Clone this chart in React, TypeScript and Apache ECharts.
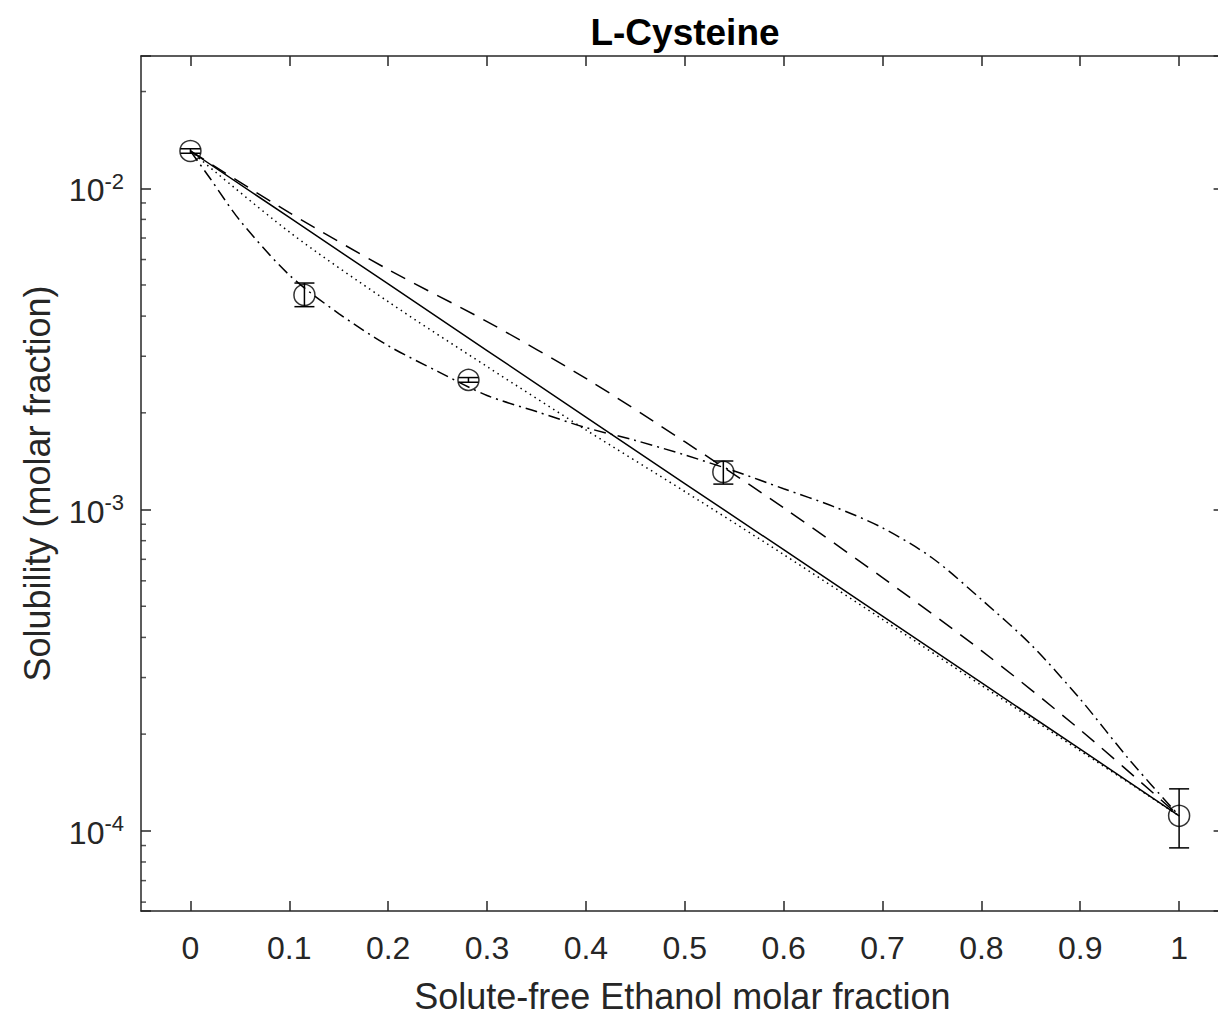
import React, { useEffect, useRef } from "react";
import * as echarts from "echarts";

// ---- data ----
const xTicks = [0, 0.1, 0.2, 0.3, 0.4, 0.5, 0.6, 0.7, 0.8, 0.9, 1];
const yMinorTicks = [
  6e-5, 7e-5, 8e-5, 9e-5,
  2e-4, 3e-4, 4e-4, 5e-4, 6e-4, 7e-4, 8e-4, 9e-4,
  2e-3, 3e-3, 4e-3, 5e-3, 6e-3, 7e-3, 8e-3, 9e-3,
  2e-2,
];

// experimental points (circles with error bars)
const expX = [0, 0.1153, 0.2812, 0.539, 1];
const expY = [0.01306, 0.004655, 0.002532, 0.001309, 1.114e-4];
const expLow = [0.01285, 0.00428, 0.00249, 0.0012, 8.85e-5];
const expHigh = [0.01327, 0.00507, 0.002575, 0.001416, 1.351e-4];

// model curves
const modelX = [0, 0.1, 0.2, 0.3, 0.4, 0.5, 0.6, 0.7, 0.8, 0.9, 1];
const solidY = [0.01306, 0.00811, 0.005035, 0.003126, 0.001941, 0.001205, 7.5e-4, 4.656e-4, 2.891e-4, 1.795e-4, 1.114e-4];
const dottedY = [0.01306, 0.007311, 0.004436, 0.002786, 0.00177, 0.001138, 7.244e-4, 4.55e-4, 2.838e-4, 1.774e-4, 1.114e-4];
const dashedY = [0.01306, 0.008395, 0.005585, 0.003846, 0.002559, 0.001626, 0.001012, 6.138e-4, 3.639e-4, 2.061e-4, 1.114e-4];
const dashDotX = [0, 0.02, 0.05, 0.1, 0.15, 0.2, 0.25, 0.3, 0.35, 0.4, 0.45, 0.5, 0.55, 0.6, 0.65, 0.7, 0.75, 0.8, 0.85, 0.9, 0.95, 1];
const dashDotY = [0.01306, 0.01072, 0.007943, 0.00537, 0.004074, 0.003236, 0.002692, 0.002265, 0.002018, 0.001799, 0.001641, 0.001479, 0.001318, 0.001161, 0.001023, 8.77e-4, 7.079e-4, 5.248e-4, 3.802e-4, 2.57e-4, 1.66e-4, 1.114e-4];

const X_MIN = -0.05;
const X_MAX = 1.045;
const Y_MIN = 5.63e-5;
const Y_MAX = 0.0258;

const AX = "#262626";
const FONT = "Liberation Sans, Arial, Helvetica, sans-serif";

const zip = (xs: number[], ys: number[]) => xs.map((x, i) => [x, ys[i]]);

function yLabel(v: number) {
  const e = Math.log10(v);
  const n = Math.round(e);
  if (Math.abs(e - n) > 1e-6) return "";
  return `{b|10}{e|${n}}`;
}

function buildOption() {
  const lineBase = { type: "line", showSymbol: false, silent: true, z: 3 };
  const axLine = { show: true, onZero: false, lineStyle: { color: AX, width: 1.5 } };
  return {
    animation: false,
    backgroundColor: "#ffffff",
    title: {
      text: "L-Cysteine",
      left: 680,
      top: 9,
      textAlign: "center",
      textStyle: { fontFamily: FONT, fontWeight: "bold", fontSize: 37, color: "#000" },
    },
    grid: {
      left: 141,
      top: 56,
      width: 1082.6,
      height: 855,
      containLabel: false,
      outerBoundsMode: "none",
    },
    xAxis: [
      {
        type: "value",
        position: "bottom",
        min: X_MIN,
        max: X_MAX,
        name: "Solute-free Ethanol molar fraction",
        nameLocation: "middle",
        nameGap: 67,
        nameTextStyle: { fontFamily: FONT, fontSize: 36, color: AX },
        axisLine: axLine,
        axisTick: { show: true, inside: true, length: 10, customValues: xTicks, lineStyle: { color: AX, width: 1.5 } },
        axisLabel: { show: true, customValues: xTicks, margin: 21, fontFamily: FONT, fontSize: 32, color: AX },
        splitLine: { show: false },
      },
      {
        type: "value",
        position: "top",
        min: X_MIN,
        max: X_MAX,
        axisLine: axLine,
        axisTick: { show: true, inside: true, length: 10, customValues: xTicks, lineStyle: { color: AX, width: 1.5 } },
        axisLabel: { show: false, customValues: xTicks },
        splitLine: { show: false },
      },
    ],
    yAxis: [
      {
        type: "log",
        logBase: 10,
        position: "left",
        min: Y_MIN,
        max: Y_MAX,
        name: "Solubility (molar fraction)",
        nameLocation: "middle",
        nameRotate: 90,
        nameGap: 86,
        nameTextStyle: { fontFamily: FONT, fontSize: 36, color: AX },
        axisLine: axLine,
        axisTick: { show: true, inside: true, length: 10, lineStyle: { color: AX, width: 1.5 } },
        axisLabel: {
          show: true,
          margin: 17,
          formatter: yLabel,
          rich: {
            b: { fontFamily: FONT, fontSize: 32, color: AX, lineHeight: 36, verticalAlign: "bottom" },
            e: { fontFamily: FONT, fontSize: 22, color: AX, lineHeight: 18, verticalAlign: "top" },
          },
        },
        splitLine: { show: false },
        minorTick: { show: false },
      },
      {
        type: "log",
        logBase: 10,
        position: "right",
        min: Y_MIN,
        max: Y_MAX,
        axisLine: axLine,
        axisTick: { show: true, inside: true, length: 10, lineStyle: { color: AX, width: 1.5 } },
        axisLabel: { show: false },
        splitLine: { show: false },
      },
    ],
    series: [
      {
        ...lineBase,
        name: "solid",
        data: zip(modelX, solidY),
        lineStyle: { color: "#000", width: 1.5, type: "solid" },
      },
      {
        ...lineBase,
        name: "dotted",
        smooth: 0.3,
        data: zip(modelX, dottedY),
        lineStyle: { color: "#000", width: 1.5, type: [1.5, 4] },
      },
      {
        ...lineBase,
        name: "dashed",
        smooth: 0.3,
        data: zip(modelX, dashedY),
        lineStyle: { color: "#000", width: 1.5, type: [16, 10] },
      },
      {
        ...lineBase,
        name: "dashdot",
        smooth: 0.3,
        data: zip(dashDotX, dashDotY),
        lineStyle: { color: "#000", width: 1.5, type: [12, 5, 2, 5] },
      },
      {
        type: "custom",
        name: "errorbars",
        silent: true,
        z: 4,
        data: expX.map((x, i) => [x, expLow[i], expHigh[i]]),
        encode: { x: 0, y: [1, 2] },
        renderItem: (params: any, api: any) => {
          const x = api.value(0);
          const lo = api.coord([x, api.value(1)]);
          const hi = api.coord([x, api.value(2)]);
          const w = 10;
          const style = { stroke: "#000", lineWidth: 1.5 };
          return {
            type: "group",
            children: [
              { type: "line", shape: { x1: lo[0], y1: lo[1], x2: hi[0], y2: hi[1] }, style },
              { type: "line", shape: { x1: lo[0] - w, y1: lo[1], x2: lo[0] + w, y2: lo[1] }, style },
              { type: "line", shape: { x1: hi[0] - w, y1: hi[1], x2: hi[0] + w, y2: hi[1] }, style },
            ],
          };
        },
      },
      {
        type: "scatter",
        name: "experimental",
        silent: true,
        z: 5,
        symbol: "circle",
        symbolSize: 21,
        data: zip(expX, expY),
        itemStyle: { color: "rgba(0,0,0,0)", borderColor: "#000", borderWidth: 1.5 },
      },
      {
        type: "scatter",
        name: "minorTicksLeft",
        silent: true,
        clip: false,
        z: 6,
        symbol: "rect",
        symbolSize: [5, 1.5],
        symbolOffset: [2.5, 0],
        data: yMinorTicks.map((v) => [X_MIN, v]),
        itemStyle: { color: AX },
      },
      {
        type: "scatter",
        name: "minorTicksRight",
        silent: true,
        clip: false,
        z: 6,
        symbol: "rect",
        symbolSize: [5, 1.5],
        symbolOffset: [-2.5, 0],
        data: yMinorTicks.map((v) => [X_MAX, v]),
        itemStyle: { color: AX },
      },
    ],
  };
}

export default function App() {
  const ref = useRef<HTMLDivElement>(null);
  useEffect(() => {
    if (!ref.current) return;
    const chart = echarts.init(ref.current, null, { renderer: "svg" });
    chart.setOption(buildOption() as any);
    return () => chart.dispose();
  }, []);
  return (
    <div
      ref={ref}
      style={{ position: "fixed", left: 0, top: 0, width: 1218, height: 1018, background: "#ffffff" }}
    />
  );
}
